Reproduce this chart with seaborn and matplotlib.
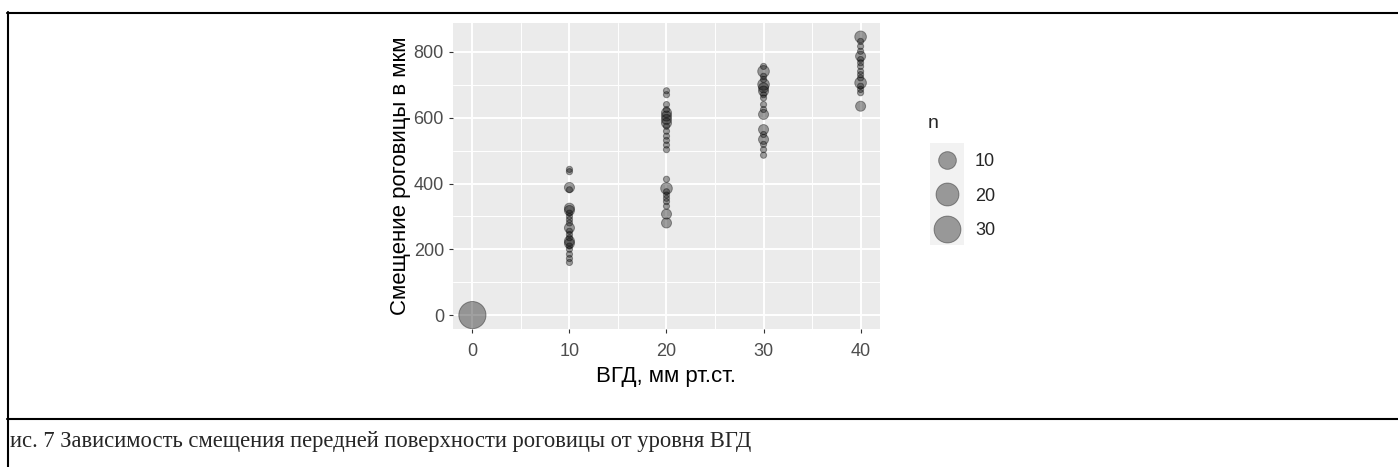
import numpy as np
import pandas as pd
from matplotlib import pyplot as plt
from matplotlib.lines import Line2D
from matplotlib.patches import Rectangle
import seaborn as sns

# intraocular pressure levels (mm Hg) and corneal shift (um) with point counts
shift_0 = [0]
count_0 = [31]
shift_10 = [443, 436, 388, 381, 325, 318, 310, 300, 290, 280, 265, 255,
            245, 235, 225, 218, 210, 200, 185, 172, 160]
count_10 = [1, 1, 2, 1, 2, 2, 1, 1, 1, 1, 2, 1,
            1, 1, 2, 2, 1, 1, 1, 1, 1]
shift_20 = [682, 670, 640, 625, 615, 605, 595, 584, 574, 559, 544, 531,
            517, 503, 413, 385, 375, 365, 355, 345, 331, 307, 280]
count_20 = [1, 1, 1, 1, 2, 2, 2, 2, 1, 1, 1, 1,
            1, 1, 1, 3, 1, 1, 1, 1, 1, 2, 2]
shift_30 = [756, 741, 726, 716, 701, 691, 681, 670, 660, 640, 625, 610,
            564, 549, 534, 519, 503, 486]
count_30 = [1, 3, 1, 1, 3, 2, 2, 1, 1, 1, 1, 2,
            2, 1, 2, 1, 1, 1]
shift_40 = [846, 832, 817, 802, 787, 777, 767, 756, 741, 731, 721, 706,
            696, 686, 676, 635]
count_40 = [3, 1, 1, 1, 2, 1, 1, 1, 1, 1, 1, 3,
            1, 1, 1, 2]

pressure_levels = [0, 10, 20, 30, 40]
shifts = [shift_0, shift_10, shift_20, shift_30, shift_40]
counts = [count_0, count_10, count_20, count_30, count_40]
legend_breaks = [10, 20, 30]

rows = []
for p, s, c in zip(pressure_levels, shifts, counts):
    for yv, nv in zip(s, c):
        rows.append({'vgd': p, 'shift': yv, 'n': nv})
data = pd.DataFrame(rows)

# ggplot-like size scale: diameter grows with sqrt of the count
n_min, n_max = data['n'].min(), data['n'].max()


def diameter_pt(n):
    size = 1 + 5 * np.sqrt((n - n_min) / (n_max - n_min))
    d_px = 4.2 * size + 2
    return d_px * 0.72


size_map = {n: diameter_pt(n) ** 2 for n in sorted(data['n'].unique())}

sns.set_style("darkgrid", {"axes.facecolor": "#EBEBEB", "grid.color": "white"})
plt.rcParams['font.family'] = ['Liberation Sans', 'DejaVu Sans']

W, H = 1398, 467
fig = plt.figure(figsize=(W / 100, H / 100), dpi=100)
fig.patch.set_facecolor('white')
ax = fig.add_axes([453 / W, (H - 329) / H, 427 / W, 306 / H])

alpha = 0.37
point_color = (0, 0, 0, alpha)
sns.scatterplot(data=data, x='vgd', y='shift', size='n', sizes=size_map,
                color='black', alpha=alpha, edgecolor='black', linewidth=0.7,
                legend=False, ax=ax, zorder=3)

ax.set_xlim(-2, 42)
ax.set_ylim(-42.3, 888)
ax.set_xticks([0, 10, 20, 30, 40])
ax.set_yticks([0, 200, 400, 600, 800])
ax.set_xticks([5, 15, 25, 35], minor=True)
ax.set_yticks([100, 300, 500, 700], minor=True)
ax.grid(which='major', color='white', linewidth=1.4)
ax.grid(which='minor', color='white', linewidth=0.7)
ax.set_axisbelow(True)
for sp in ax.spines.values():
    sp.set_visible(False)
ax.tick_params(which='major', length=3, width=0.8, color='#333333',
               labelsize=13, labelcolor='#4D4D4D', pad=3.5,
               bottom=True, left=True)
ax.tick_params(axis='x', which='major', pad=7)
ax.tick_params(which='minor', length=0)
ax.set_xlabel('ВГД, мм рт.ст.', fontsize=16, color='black', labelpad=4.5)
ax.set_ylabel('Смещение роговицы в мкм', fontsize=16, color='black',
              labelpad=2)

# legend for point sizes
fig.add_artist(Rectangle((930 / W, (H - 245) / H), 34 / W, 102 / H,
                         transform=fig.transFigure, facecolor='#F2F2F2',
                         edgecolor='none', zorder=0))
handles = [Line2D([], [], linestyle='', marker='o',
                  markersize=diameter_pt(b),
                  markerfacecolor=point_color, markeredgecolor=point_color,
                  markeredgewidth=0.7) for b in legend_breaks]
leg = fig.legend(handles, [str(b) for b in legend_breaks], loc='upper left',
                 bbox_to_anchor=(930 / W, (H - 153) / H), frameon=False,
                 borderpad=0, borderaxespad=0, handlelength=1.88,
                 handletextpad=0.61, labelspacing=0.98, fontsize=13)
fig.text(928 / W, (H - 123) / H, 'n', fontsize=14, va='center', ha='left')

# document table borders and the figure caption
lw = 1.5
fig.add_artist(Line2D([7 / W, 1], [(H - 13) / H, (H - 13) / H],
                      transform=fig.transFigure, color='black', lw=lw))
fig.add_artist(Line2D([7.5 / W, 7.5 / W], [0, (H - 12) / H],
                      transform=fig.transFigure, color='black', lw=lw))
fig.add_artist(Line2D([7 / W, 1], [(H - 419) / H, (H - 419) / H],
                      transform=fig.transFigure, color='black', lw=lw))
fig.text(10 / W, (H - 447) / H,
         'ис. 7 Зависимость смещения передней поверхности роговицы от уровня ВГД',
         fontsize=16.3, family=['Liberation Serif', 'DejaVu Serif'],
         va='baseline', ha='left')

plt.savefig('out.png', dpi=100)
